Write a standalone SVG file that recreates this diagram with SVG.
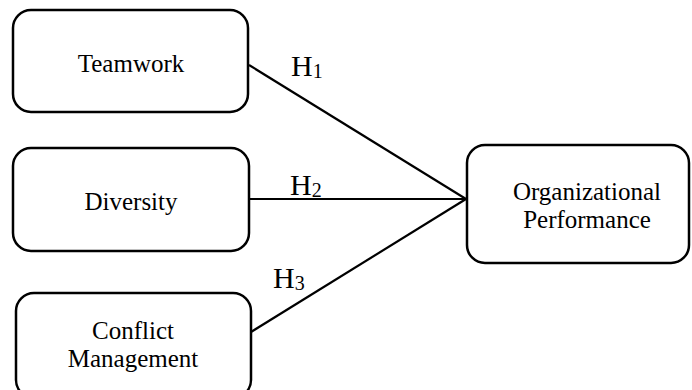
<svg xmlns="http://www.w3.org/2000/svg" width="692" height="390" viewBox="0 0 692 390">
<style>
.box{fill:#fff;stroke:#000;stroke-width:2.5}
.lbl{font-size:25px;fill:#000;text-anchor:middle}
.h{font-size:30px;fill:#000}
.sub{font-size:20px}
.edge{stroke:#000;stroke-width:2.2;fill:none}
</style>
<rect width="692" height="390" fill="#fff"/>
<g id="connectors" font-family="Liberation Serif, DejaVu Serif, serif">
<line class="edge" x1="249" y1="65" x2="466" y2="199"/>
<line class="edge" x1="249" y1="199" x2="466" y2="199"/>
<line class="edge" x1="251" y1="332" x2="466" y2="199"/>
<text class="h" x="291" y="76">H<tspan class="sub" dy="2">1</tspan></text>
<text class="h" x="290" y="195">H<tspan class="sub" dy="2">2</tspan></text>
<text class="h" x="273" y="288">H<tspan class="sub" dy="2">3</tspan></text>
</g>
<g id="teamwork" font-family="Liberation Serif, DejaVu Serif, serif">
<rect class="box" x="13" y="10" width="235" height="102" rx="18"/>
<text class="lbl" x="131" y="72">Teamwork</text>
</g>
<g id="diversity" font-family="Liberation Serif, DejaVu Serif, serif">
<rect class="box" x="13" y="148" width="236" height="103" rx="18"/>
<text class="lbl" x="131" y="210">Diversity</text>
</g>
<g id="conflict" font-family="Liberation Serif, DejaVu Serif, serif">
<rect class="box" x="16" y="293" width="235" height="105" rx="18"/>
<text class="lbl" x="133" y="339">Conflict</text>
<text class="lbl" x="133" y="367">Management</text>
</g>
<g id="performance" font-family="Liberation Serif, DejaVu Serif, serif">
<rect class="box" x="467" y="145" width="222" height="118" rx="18"/>
<text class="lbl" x="587" y="200">Organizational</text>
<text class="lbl" x="587" y="228">Performance</text>
</g>
</svg>
